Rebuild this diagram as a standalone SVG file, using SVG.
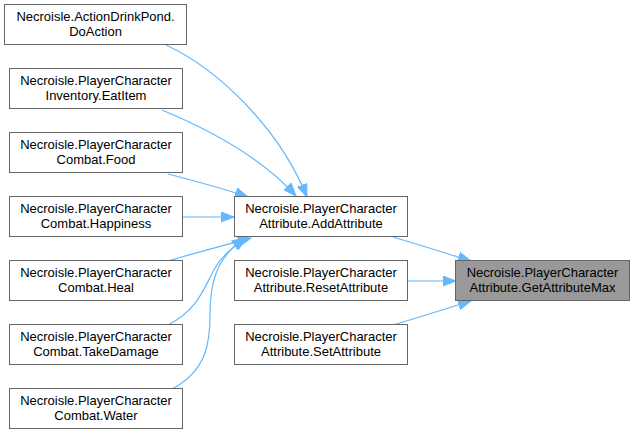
<svg xmlns="http://www.w3.org/2000/svg" width="635" height="435" viewBox="0 0 635 435">
<style>
.n rect{fill:#ffffff;stroke:#666666;stroke-width:1}
.n.hl rect{fill:#999999}
.n text{font-family:"Liberation Sans",Arial,sans-serif;font-size:13px;fill:#000000;text-anchor:middle}
.e path{fill:none;stroke:#63b8ff;stroke-width:1.2;marker-end:url(#ah)}
</style>
<defs>
<marker id="ah" markerUnits="userSpaceOnUse" markerWidth="14" markerHeight="11" refX="13" refY="5" orient="auto" viewBox="0 0 14 10">
<path d="M0,0 L13,5 L0,10 z" fill="#63b8ff" stroke="#63b8ff" stroke-width="1"/>
</marker>
</defs>
<rect width="635" height="435" fill="#ffffff"/>
<g id="edges" class="e">
<path d="M166,45 C220,70 280,130 307,197"/>
<path d="M162,110 C210,130 262,158 296,196"/>
<path d="M168,174 C195,181 225,189 248,197"/>
<path d="M183,217 L234,217"/>
<path d="M168,261 C195,253 225,245 251,238"/>
<path d="M168,325 C200,308 205,285 215,268 C222,256 232,248 246,238"/>
<path d="M172,389 C208,370 210,340 210,315 C210,285 215,258 245,238"/>
<path d="M393,237 C420,245 445,253 471,261"/>
<path d="M408,281 L456,281"/>
<path d="M393,325 C420,317 445,309 471,301"/>
</g>
<g id="n1" class="n"><rect x="4.5" y="4.5" width="182" height="40"/><text x="95.5" y="20.5">Necroisle.ActionDrinkPond.</text><text x="95.5" y="35.5">DoAction</text></g>
<g id="n2" class="n"><rect x="9.5" y="68.5" width="173" height="40"/><text x="96" y="84.5">Necroisle.PlayerCharacter</text><text x="96" y="99.5">Inventory.EatItem</text></g>
<g id="n3" class="n"><rect x="9.5" y="132.5" width="173" height="40"/><text x="96" y="148.5">Necroisle.PlayerCharacter</text><text x="96" y="163.5">Combat.Food</text></g>
<g id="n4" class="n"><rect x="9.5" y="196.5" width="173" height="40"/><text x="96" y="212.5">Necroisle.PlayerCharacter</text><text x="96" y="227.5">Combat.Happiness</text></g>
<g id="n5" class="n"><rect x="9.5" y="260.5" width="173" height="40"/><text x="96" y="276.5">Necroisle.PlayerCharacter</text><text x="96" y="291.5">Combat.Heal</text></g>
<g id="n6" class="n"><rect x="9.5" y="324.5" width="173" height="40"/><text x="96" y="340.5">Necroisle.PlayerCharacter</text><text x="96" y="355.5">Combat.TakeDamage</text></g>
<g id="n7" class="n"><rect x="9.5" y="388.5" width="173" height="40"/><text x="96" y="404.5">Necroisle.PlayerCharacter</text><text x="96" y="419.5">Combat.Water</text></g>
<g id="n8" class="n"><rect x="234.5" y="196.5" width="173" height="40"/><text x="321" y="212.5">Necroisle.PlayerCharacter</text><text x="321" y="227.5">Attribute.AddAttribute</text></g>
<g id="n9" class="n"><rect x="234.5" y="260.5" width="173" height="40"/><text x="321" y="276.5">Necroisle.PlayerCharacter</text><text x="321" y="291.5">Attribute.ResetAttribute</text></g>
<g id="n10" class="n"><rect x="234.5" y="324.5" width="173" height="40"/><text x="321" y="340.5">Necroisle.PlayerCharacter</text><text x="321" y="355.5">Attribute.SetAttribute</text></g>
<g id="n11" class="n hl"><rect x="455.5" y="260.5" width="174" height="40"/><text x="542.5" y="276.5">Necroisle.PlayerCharacter</text><text x="542.5" y="291.5">Attribute.GetAttributeMax</text></g>
</svg>
